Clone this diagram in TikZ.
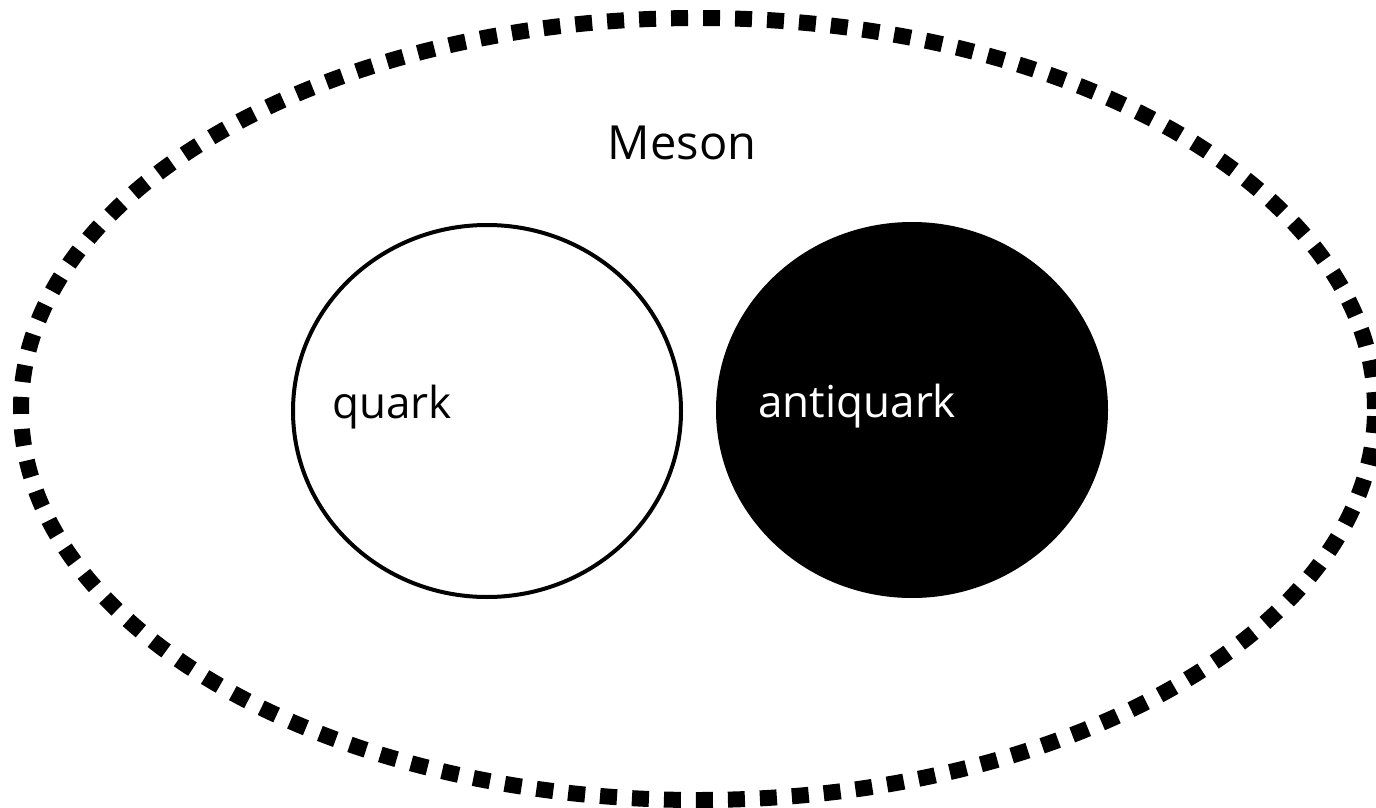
\documentclass[tikz,border=0pt]{standalone}
\usepackage{fontspec}
\setmainfont{Open Sans}
\usetikzlibrary{shapes.geometric}
\begin{document}
\begin{tikzpicture}[x=0.5pt,y=-0.5pt,
  mesonring/.style={ellipse,draw,line width=8pt,dash pattern=on 8.5pt off 7.5pt,minimum width=677pt,minimum height=391pt,inner sep=0pt},
  particle/.style={ellipse,draw,line width=2pt,minimum width=194pt,minimum height=186pt,inner sep=0pt},
  lbl/.style={inner sep=0pt,font=\fontsize{22}{26}\selectfont}]
\useasboundingbox (0,0) rectangle (1376,808);
\node[mesonring] (meson) at (698,409) {};
\node[particle,fill=white] (quark) at (487,411) {};
\node[particle,fill=black] (antiquark) at (912,410) {};
\node[lbl,anchor=base west] (quarklbl) at (332,418) {quark};
\node[lbl,anchor=base west,text=white] (antiquarklbl) at (758,417) {antiquark};
\node[inner sep=0pt,anchor=base,font=\fontsize{23.5}{28}\selectfont] (mesonlbl) at (682,160) {Meson};
\end{tikzpicture}
\end{document}
